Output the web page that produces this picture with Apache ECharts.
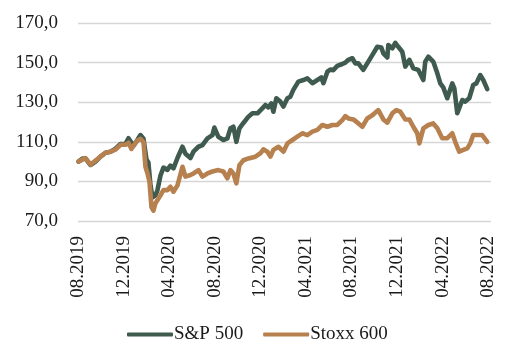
<!DOCTYPE html>
<html>
<head>
<meta charset="utf-8">
<script src="https://cdn.jsdelivr.net/npm/echarts@6/dist/echarts.min.js"></script>
<style>html,body{margin:0;padding:0;background:#fff}#c{width:514px;height:363px}</style>
</head>
<body>
<div id="c"></div>
<script>
// x values: months since 08.2019
var spxMonths = [0.04,0.39,0.66,1.10,1.54,1.97,2.41,2.85,3.29,3.73,4.17,4.43,4.87,5.22,5.48,5.75,6.01,6.18,6.36,6.54,6.80,6.97,7.24,7.50,7.85,8.11,8.38,8.73,9.17,9.43,9.87,10.13,10.57,10.92,11.36,11.80,11.97,12.32,12.76,13.11,13.38,13.64,13.90,14.17,14.52,14.96,15.31,15.75,16.18,16.45,16.71,16.97,17.15,17.41,17.76,18.03,18.38,18.64,18.90,19.34,19.78,20.13,20.57,21.01,21.36,21.54,21.89,22.15,22.41,22.76,23.20,23.46,23.73,24.08,24.34,24.61,25.04,25.39,25.83,26.27,26.62,26.80,27.15,27.24,27.59,27.85,28.11,28.46,28.73,29.08,29.43,29.87,30.31,30.48,30.75,31.18,31.54,31.80,32.06,32.41,32.85,33.03,33.29,33.73,33.99,34.34,34.69,34.96,35.31,35.57,35.92];
var spxValues = [100,101.5,101.5,98.3,100,102.5,104.5,105,106.5,108.9,109,111.8,108,111,113.4,111.5,101,99.5,88,82,83,85.5,93,97,95.8,98,96.6,101.8,107.5,104,101.8,105,107.5,108.3,111.7,113.4,117.2,112.5,110.9,111.7,116.8,117.6,110,116.8,119.5,122.7,124.4,124.4,126.9,128.6,127.4,129.4,125.2,132,130.3,127.8,132,132.8,136.2,140.4,141.2,142,139.6,141.2,142.5,139.6,145.4,146.5,146.2,148.3,149.3,150,151.4,152.2,149.6,149.6,146.3,149.6,153.8,158,157.6,154.7,152.6,158.9,157.2,160,158,155.5,148,151.4,147.1,146.3,141.2,150.5,153,150.5,144.6,139.5,137.5,132,139.5,137,124.4,131.1,130.3,132,138.7,139.5,143.7,141.2,136.6];

var stoxxMonths = [0.04,0.39,0.66,1.10,1.54,1.97,2.41,2.85,3.29,3.73,4.17,4.43,4.69,4.87,5.22,5.48,5.75,5.92,6.10,6.27,6.45,6.62,6.80,6.97,7.24,7.50,7.85,8.11,8.38,8.73,9.17,9.43,9.87,10.13,10.57,10.92,11.36,11.80,11.97,12.32,12.76,13.11,13.38,13.64,13.90,14.17,14.52,14.96,15.13,15.57,16.01,16.27,16.62,16.89,17.15,17.59,18.03,18.38,18.82,19.25,19.69,20.13,20.57,21.01,21.45,21.89,22.32,22.76,23.20,23.46,23.73,24.17,24.61,24.96,25.39,25.83,26.36,26.80,27.15,27.59,27.94,28.29,28.73,29.08,29.43,29.78,29.96,30.31,30.75,31.18,31.54,31.97,32.41,32.85,33.11,33.46,33.82,34.17,34.43,34.69,35.13,35.48,35.92];
var stoxxValues = [100,101,101.8,98.5,100.5,102.5,104.5,105,106,108.5,108.5,109.5,106.4,108,110.7,111.5,110,97.4,94,90,77,75.2,79,79.8,83,85.6,85.6,87.3,84.8,88,97.4,92.4,93.2,94,95.7,92.4,94,95,95,95.7,95,91.6,95.7,94,89,98.2,100.7,101.6,101.6,102.5,104.2,106.2,105,102.5,105.9,107.5,105,109.2,110.9,112.6,114.3,113.4,115.1,116,118.5,117.6,118.5,118.5,121,123,121.8,121.3,119.3,117.6,121.8,123.4,126,121.3,119.7,124.4,126,125.2,121.3,121.3,117.6,114.3,109.2,116.8,118.5,119.3,116.8,111.8,111.8,114.3,110,105,105.9,106.7,109.2,113.4,113.4,113.4,110];

var xTickLabels = ['08.2019','12.2019','04.2020','08.2020','12.2020','04.2021','08.2021','12.2021','04.2022','08.2022'];
var seriesNames = ['S&P 500','Stoxx 600'];

function pairs(xs, ys){ return xs.map(function(x,i){ return [x, ys[i]]; }); }

var font = 'Liberation Serif';
var chart = echarts.init(document.getElementById('c'), null, {renderer:'canvas'});
chart.setOption({
  animation: false,
  backgroundColor: '#fff',
  grid: {left: 78, right: 23, top: 23, bottom: 142, containLabel: false},
  xAxis: {
    type: 'value', min: 0, max: 36.25, interval: 4,
    axisLine: {show: false}, axisTick: {show: false}, splitLine: {show: false},
    axisLabel: {
      rotate: 90, margin: 15, fontFamily: font, fontSize: 19, color: '#1a1a1a',
      showMaxLabel: false,
      formatter: function(v){ var i = Math.round(v/4); return (Math.abs(v - i*4) < 1e-6 && xTickLabels[i]) ? xTickLabels[i] : ''; }
    }
  },
  yAxis: {
    type: 'value', min: 70, max: 170, interval: 20,
    axisLine: {show: false}, axisTick: {show: false},
    splitLine: {lineStyle: {color: '#d6d6d6', width: 1.3}},
    axisLabel: {
      margin: 20, fontFamily: font, fontSize: 19, color: '#1a1a1a',
      formatter: function(v){ return v.toFixed(1).replace('.', ','); }
    }
  },
  legend: {
    left: 122, top: 320, itemGap: 20, itemWidth: 46, itemHeight: 4,
    icon: 'roundRect',
    textStyle: {fontFamily: font, fontSize: 19, color: '#1a1a1a', padding: [0,0,0,-4]},
    data: seriesNames
  },
  series: [
    {name: seriesNames[0], type: 'line', data: pairs(spxMonths, spxValues), symbol: 'none',
     lineStyle: {color: '#3f5a4e', width: 4.6, join: 'round', cap: 'round'}, itemStyle: {color: '#3f5a4e'}},
    {name: seriesNames[1], type: 'line', data: pairs(stoxxMonths, stoxxValues), symbol: 'none',
     lineStyle: {color: '#b7814f', width: 4.6, join: 'round', cap: 'round'}, itemStyle: {color: '#b7814f'}}
  ]
});
</script>
</body>
</html>
